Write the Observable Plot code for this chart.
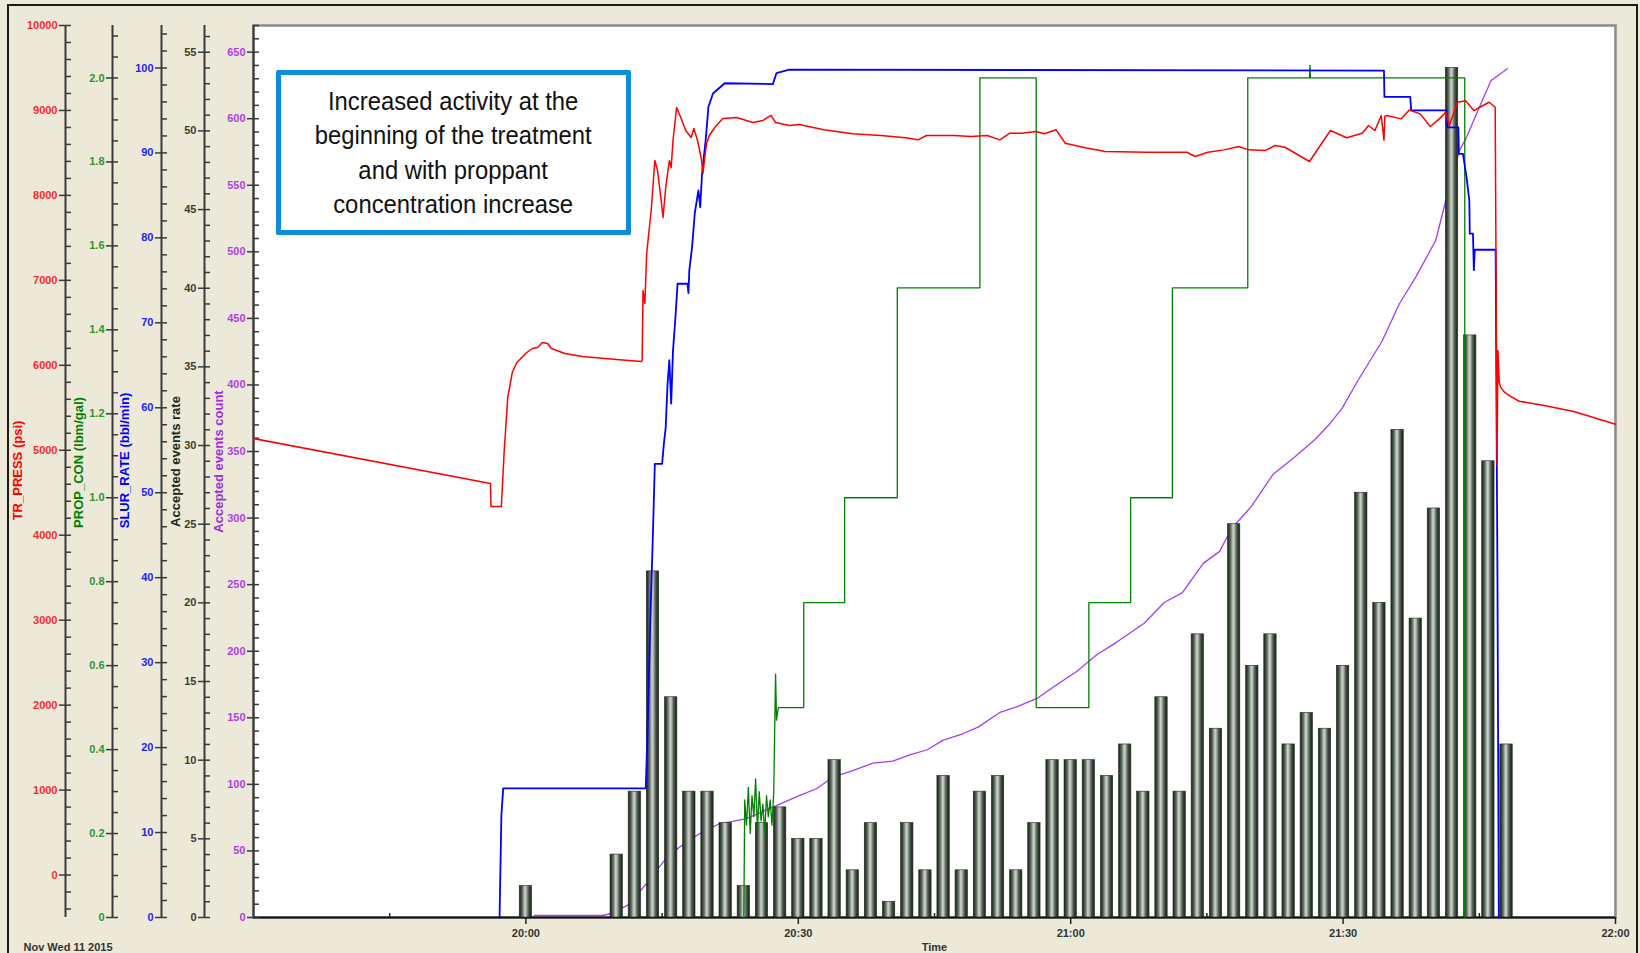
<!DOCTYPE html>
<html><head><meta charset="utf-8">
<script src="https://cdn.jsdelivr.net/npm/d3@7"></script>
<script src="https://cdn.jsdelivr.net/npm/@observablehq/plot@0.6"></script>
<style>
html,body{margin:0;padding:0;background:#ECE9D8;}
#chart{position:relative;width:1640px;height:953px;background:#ECE9D8;overflow:hidden;font-family:"Liberation Sans",Arial,sans-serif;}
#chart svg{position:absolute;left:0;top:0;}
#border{position:absolute;left:7px;top:4px;width:1631px;height:980px;border:2px solid #1a1a1a;box-sizing:border-box;pointer-events:none;}
#note{position:absolute;left:276px;top:70px;width:355px;height:165px;box-sizing:border-box;border:5px solid #0B8ED5;background:#fff;border-radius:2px;display:flex;align-items:center;justify-content:center;}
#note div{font-size:25.5px;line-height:34.5px;text-align:center;color:#111;transform:scaleX(0.935);white-space:nowrap;}
</style></head>
<body><div id="chart"><div id="border"></div></div>
<script>
// ---------- data (time in minutes after 19:30) ----------
const xStart = "19:30", xEnd = "22:00";
const xTicks = ["20:00","20:30","21:00","21:30","22:00"];
const xMinorTicks = ["19:45","20:15","20:45","21:15","21:45"];

const barTimes = ["20:00","20:10","20:12","20:14","20:16","20:18","20:20","20:22","20:24","20:26","20:28",
  "20:30","20:32","20:34","20:36","20:38","20:40","20:42","20:44","20:46","20:48","20:50","20:52","20:54",
  "20:56","20:58","21:00","21:02","21:04","21:06","21:08","21:10","21:12","21:14","21:16","21:18","21:20",
  "21:22","21:24","21:26","21:28","21:30","21:32","21:34","21:36","21:38","21:40","21:42","21:44","21:46","21:48"];
const barRates = [2,4,8,22,14,8,8,6,2,6,7,5,5,10,3,6,1,6,3,9,3,8,9,3,6,10,10,10,9,11,8,14,8,18,12,25,16,18,11,13,12,16,27,20,31,19,26,54,37,29,11];

const pressure = [[0,5138],[26.1,4609],[26.15,4338],[27.3,4338],[27.6,4974],[28.0,5621],[28.5,5915],[29.0,6033],
  [30.1,6151],[30.7,6198],[31.3,6210],[31.8,6268],[32.4,6256],[32.8,6198],[34.3,6139],[36.2,6104],[40.0,6068],
  [42.7,6045],[42.8,6056],[42.85,6445],[42.9,6880],[43.1,6727],[43.3,7316],[43.8,7822],[44.2,8411],[44.5,8293],
  [44.9,7940],[45.1,7740],[45.4,8093],[45.8,8411],[46.0,8328],[46.2,8646],[46.6,9035],[47.1,8905],[47.6,8764],
  [48.2,8681],[48.5,8787],[48.9,8646],[49.3,8446],[49.5,8258],[49.7,8446],[49.9,8611],[50.2,8705],[50.8,8799],
  [51.7,8905],[53.2,8917],[55.0,8858],[56.1,8882],[57.0,8941],[57.5,8858],[59.0,8823],[60.1,8835],[62.8,8772],
  [66.0,8725],[69.1,8705],[71.8,8678],[73.2,8654],[74.1,8705],[77.2,8705],[79.0,8693],[80.8,8705],[82.2,8654],
  [83.3,8732],[84.6,8732],[86.2,8752],[87.1,8725],[88.4,8772],[89.4,8614],[91.6,8560],[93.8,8516],[98.3,8508],
  [102.8,8508],[103.7,8458],[105.1,8508],[106.9,8536],[108.5,8575],[109.6,8536],[111.4,8528],[112.5,8587],
  [113.6,8567],[116.3,8399],[118.6,8764],[120.4,8678],[122.1,8732],[122.8,8823],[123.5,8764],[124.2,8941],
  [124.5,8650],[124.6,8930],[124.8,8941],[126.4,8901],[127.3,9006],[128.5,8960],[129.6,8811],[130.6,8901],
  [131.3,8980],[131.7,8823],[132.6,9097],[133.5,9115],[134.4,8999],[135.4,9058],[136.1,9097],[136.75,9038],
  [136.85,7000],[136.95,4826],[137.05,6175],[137.2,5800],[137.35,5740],[137.8,5680],[138.4,5638],[139.4,5577],
  [142.0,5530],[145.4,5456],[150,5307]];

const slurryRate = [[27.1,0],[27.3,12],[27.5,15.2],[43.2,15.2],[43.4,22],[43.7,35],[44.0,45.6],[44.2,53.4],
  [45.0,53.4],[45.2,55.8],[45.4,57.7],[45.6,62.8],[45.8,65.6],[46.0,60.5],[46.2,66.7],[46.5,71.1],[46.7,74.6],
  [47.8,74.6],[47.9,73.5],[48.0,76.2],[48.3,78.9],[48.6,82.9],[49.0,85.6],[49.2,83.6],[49.4,87.6],[49.8,91.5],
  [50.1,95.4],[50.6,97.0],[51.9,98.2],[57.2,98.1],[57.6,99.4],[59.0,99.8],[124.5,99.7],[124.55,96.6],
  [127.4,96.6],[127.5,95.0],[131.4,95.0],[131.5,93.0],[132.7,93.0],[132.75,89.9],[133.2,89.9],[133.6,87.1],
  [133.9,84.4],[133.95,80.5],[134.3,80.5],[134.4,76.2],[134.5,78.6],[136.8,78.6],[137.0,40],[137.15,0]];

const propConc = [[54.0,0],[54.1,0.28],[54.3,0.22],[54.5,0.31],[54.7,0.2],[54.9,0.29],[55.1,0.24],[55.3,0.33],
  [55.5,0.21],[55.7,0.3],[55.9,0.23],[56.1,0.27],[56.3,0.2],[56.5,0.29],[56.7,0.24],[56.9,0.28],[57.1,0.22],
  [57.3,0.3],[57.4,0.45],[57.5,0.58],[57.6,0.47],[57.8,0.5],[60.6,0.5],[60.6,0.75],[65.1,0.75],[65.1,1.0],
  [70.9,1.0],[70.9,1.5],[80.0,1.5],[80.0,2.0],[86.2,2.0],[86.2,0.5],[92.0,0.5],[92.0,0.75],[96.6,0.75],
  [96.6,1.0],[101.2,1.0],[101.2,1.5],[109.5,1.5],[109.5,2.0],[116.3,2.0],[116.35,2.03],[116.4,2.0],[133.4,2.0],[133.4,0]];

const eventCount = [[30.9,1.5],[38.4,1.5],[39.5,3],[41.4,10],[43.4,26.5],[45.4,44],[46.9,52.8],[49.1,62.9],
  [51.3,70.4],[54.2,74.1],[57.2,82.9],[60.1,91.6],[62.0,96.7],[63.8,105.4],[66.0,110.4],[68.2,116],[70.4,117.4],
  [72.2,122],[74.2,126],[75.9,133],[78.1,138],[79.8,143],[82.2,154],[84.2,158.6],[86.4,165],[88.5,175],[90.7,185],
  [92.9,197.5],[95.0,206.5],[98.1,221],[100.3,236.6],[102.3,244],[104.6,266],[106.4,275],[107.7,292],[109.9,308.8],
  [112.3,333],[114.7,346],[116.9,359],[118.4,369.7],[119.9,382.6],[121.6,403],[124.3,433],[126.2,461],[128.0,481],
  [130.2,508.5],[131.4,541],[132.8,576],[133.6,586],[135.0,608.6],[136.3,628.7],[138.1,637.5]];

const pressTicks = [0,1000,2000,3000,4000,5000,6000,7000,8000,9000,10000];
const propTicks = [0,0.2,0.4,0.6,0.8,1.0,1.2,1.4,1.6,1.8,2.0];
const slurTicks = [0,10,20,30,40,50,60,70,80,90,100];
const rateTicks = [0,5,10,15,20,25,30,35,40,45,50,55];
const countTicks = [0,50,100,150,200,250,300,350,400,450,500,550,600,650];

// ---------- helpers ----------
const T0 = Date.UTC(2015, 10, 11, 19, 30);
const tm = m => new Date(T0 + m * 60000);
const clock = s => { const [h, mm] = s.split(":").map(Number); return (h - 19) * 60 + mm - 30; };
const W = 1640, H = 953, ML = 253;
const FONT = "'Liberation Sans', Arial, Helvetica, sans-serif";
const xDom = [tm(clock(xStart)), tm(clock(xEnd))];
const AX = "#3a3a3a";

function layer(yDomain, marks, showX) {
  return Plot.plot({
    width: W, height: H, marginLeft: ML, marginRight: 25, marginTop: 25, marginBottom: 36,
    x: showX ? {type: "utc", domain: xDom} : {type: "utc", domain: xDom, axis: null},
    y: {domain: yDomain},
    style: {background: "transparent", fontFamily: FONT, overflow: "visible"},
    marks
  });
}

function yAxis({pos, major, minor, fmt, color, title, titleColor, titleX, titleDy}) {
  const dx = pos - ML;
  return [
    Plot.ruleX([xDom[0]], {dx, stroke: AX, strokeWidth: 2}),
    Plot.axisY(minor, {anchor: "left", dx: dx + 6, tickSize: 6, tickFormat: () => "", stroke: AX, strokeWidth: 1.5, label: null}),
    Plot.axisY(major, {anchor: "left", dx, tickSize: 6, tickPadding: 2, tickFormat: fmt, stroke: AX, strokeWidth: 1.5,
      fill: color, fontSize: 11, fontWeight: "bold", label: null}),
    Plot.text([title], {text: d => d, frameAnchor: "left", textAnchor: "middle", dx: titleX - ML, dy: titleDy, rotate: -90,
      fill: titleColor, fontSize: 13, fontWeight: "bold"})
  ];
}
const line = (data, opts) => Plot.line(data, {x: d => tm(d[0]), y: d => d[1], ...opts});

const chart = document.getElementById("chart");
const border = document.getElementById("border");

// layer 0: frame, time axis, cumulative count
const L0 = layer([0, 670], [
  Plot.frame({fill: "white", stroke: "#8a8a8a", strokeWidth: 2.5}),
  line(eventCount, {stroke: "#a63cf2", strokeWidth: 1.3}),
  Plot.ruleY([0], {stroke: "#111", strokeWidth: 2}),
  Plot.axisX(xTicks.map(s => tm(clock(s))), {anchor: "bottom", tickSize: 7, tickPadding: 5,
    tickFormat: d3.utcFormat("%H:%M"), stroke: "#222", strokeWidth: 1.5, fill: "#333", fontSize: 11, fontWeight: "bold", label: null}),
  Plot.axisX(xMinorTicks.map(s => tm(clock(s))), {anchor: "bottom", tickSize: 4, dy: -4, tickFormat: () => "",
    stroke: "#222", strokeWidth: 1.5, label: null}),
  ...yAxis({pos: 253, major: countTicks, minor: d3.range(0, 671, 10), fmt: d => String(d), color: "#b040e8",
    title: "Accepted events count", titleColor: "#a030e0", titleX: 218, titleDy: -10}),
  Plot.text(["Time"], {text: d => d, frameAnchor: "bottom", dy: 33, fill: "#333", fontSize: 11, fontWeight: "bold"}),
  Plot.text(["Nov Wed 11 2015"], {text: d => d, frameAnchor: "bottom-left", dx: 23 - ML, dy: 33, textAnchor: "start",
    fill: "#333", fontSize: 11, fontWeight: "bold"})
], true);

// layer 1: event-rate bars
const bars = barTimes.map((s, i) => ({m: clock(s), v: barRates[i]}));
const L1 = layer([0, 56.7], [
  Plot.rect(bars, {x1: d => tm(d.m - 0.68), x2: d => tm(d.m + 0.68), y1: 0, y2: d => d.v,
    fill: "url(#cyl)", stroke: "#1c2a1c", strokeWidth: 0.6}),
  ...yAxis({pos: 204, major: rateTicks, minor: d3.range(0, 57, 1), fmt: d => String(d), color: "#3d3d2d",
    title: "Accepted events rate", titleColor: "#1a2a1a", titleX: 175, titleDy: -10})
]);
const defs = d3.select(L1).insert("defs", ":first-child");
const g = defs.append("linearGradient").attr("id", "cyl").attr("x1", "0").attr("x2", "1").attr("y1", "0").attr("y2", "0");
[[0,"#1b271b"],[0.1,"#2c3a2c"],[0.28,"#6c766c"],[0.45,"#cbd0cb"],[0.55,"#b9c0b9"],[0.72,"#5a665a"],[0.88,"#2a382a"],[1,"#1b271b"]]
  .forEach(([o, c]) => g.append("stop").attr("offset", o).attr("stop-color", c));

// layer 2: proppant concentration
const L2 = layer([0, 2.125], [
  line(propConc, {stroke: "#008000", strokeWidth: 1.3}),
  ...yAxis({pos: 112, major: propTicks, minor: d3.range(0, 2.126, 0.05), fmt: d => d === 0 ? "0" : d.toFixed(1), color: "#2e962e",
    title: "PROP_CON (lbm/gal)", titleColor: "#008000", titleX: 78, titleDy: -9})
]);

// layer 3: slurry rate
const L3 = layer([0, 105], [
  line(slurryRate, {stroke: "#0000ff", strokeWidth: 1.8}),
  ...yAxis({pos: 161, major: slurTicks, minor: d3.range(0, 105, 2), fmt: d => String(d), color: "#2222ff",
    title: "SLUR_RATE (bbl/min)", titleColor: "#0000ff", titleX: 124.5, titleDy: -11})
]);

// layer 4: treating pressure
const L4 = layer([-500, 10000], [
  line(pressure, {stroke: "#ff0000", strokeWidth: 1.5}),
  ...yAxis({pos: 65, major: pressTicks, minor: d3.range(-400, 10001, 200), fmt: d => String(d), color: "#ff2a2a",
    title: "TR_PRESS (psi)", titleColor: "#ff0000", titleX: 17.5, titleDy: -1})
]);

[L0, L1, L2, L3, L4].forEach(s => chart.insertBefore(s, border));

const note = document.createElement("div");
note.id = "note";
note.innerHTML = "<div>Increased activity at the<br>beginning of the treatment<br>and with proppant<br>concentration increase</div>";
chart.appendChild(note);
</script></body></html>
